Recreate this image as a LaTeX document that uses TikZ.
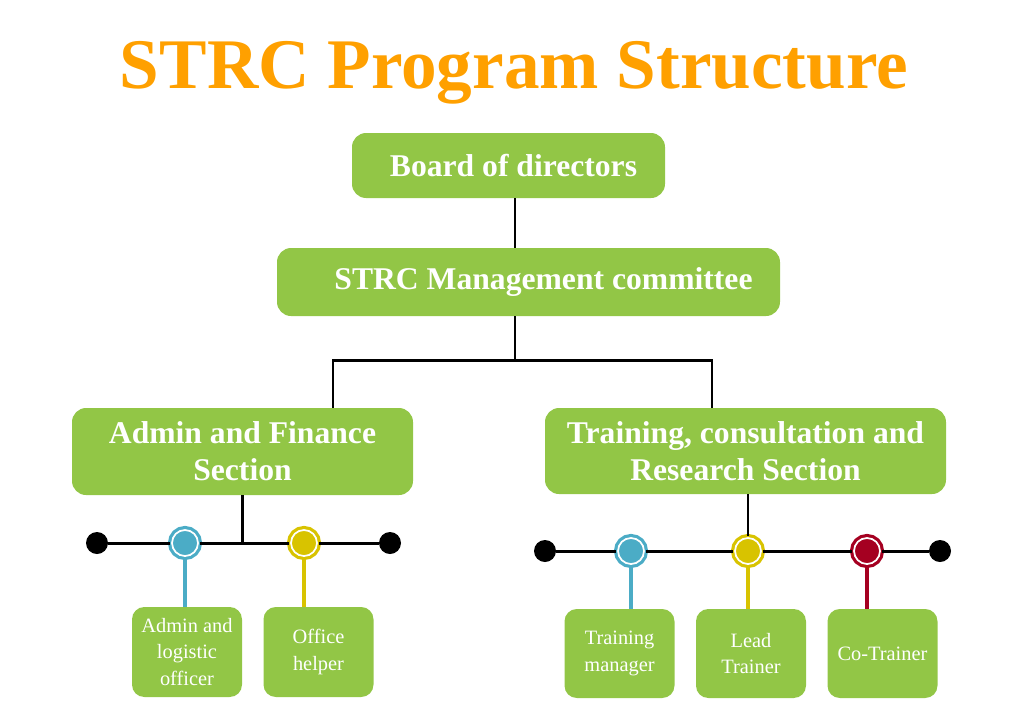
\documentclass[tikz,border=0pt]{standalone}
\usepackage{fontspec}
\setmainfont{Liberation Serif}
\usetikzlibrary{positioning,calc}
\definecolor{leaf}{HTML}{92C646}
\definecolor{amber}{HTML}{FFA000}
\definecolor{ringTeal}{HTML}{4BACC6}
\definecolor{ringGold}{HTML}{D8C300}
\definecolor{ringRed}{HTML}{A50021}
\tikzset{
  headbox/.style={fill=leaf, rounded corners=8pt, align=center, text=white,
    font=\fontsize{18}{21}\selectfont\bfseries},
  staffbox/.style={fill=leaf, rounded corners=7pt, align=center, text=white,
    minimum width=2.2cm, minimum height=1.8cm, font=\fontsize{11.6}{15.3}\selectfont},
  link/.style={line width=1.7pt, draw=black},
  enddot/.style={circle, fill=black, inner sep=0pt, minimum size=0.44cm},
  ring/.style={circle, inner sep=0pt, minimum size=0.52cm, fill=#1, draw=#1,
    double=white, double distance=1pt, line width=1.8pt},
  drop/.style={line width=1.8pt, draw=#1}
}
\begin{document}
\begin{tikzpicture}
  \useasboundingbox (0,0) rectangle (20.48,-14.48);
  \node[anchor=base, text=amber, font=\fontsize{40.5}{44}\selectfont\bfseries] (title) at (10.28,-1.76) {STRC Program Structure};
  \node[headbox, minimum width=6.26cm, minimum height=1.30cm] (board) at (10.17,-3.31) {\hspace*{0.2cm}Board of directors};
  \node[headbox, minimum width=10.06cm, minimum height=1.36cm] (mgmt) at (10.57,-5.64) {\hspace*{0.6cm}STRC Management committee};
  \node[headbox, minimum width=6.82cm, minimum height=1.74cm] (admin) at (4.85,-9.03) {Admin and Finance\\Section};
  \node[headbox, minimum width=8.02cm, minimum height=1.72cm] (training) at (14.91,-9.02) {Training, consultation and\\Research Section};
  \coordinate (spine) at (10.30,-7.20);
  \coordinate (leftdrop) at (6.66,-7.20);
  \coordinate (rightdrop) at (14.24,-7.20);
  \draw[link] (board.south -| spine) -- (mgmt.north -| spine);
  \draw[link] (mgmt.south -| spine) -- (spine);
  \draw[link] (admin.north -| leftdrop) -- (leftdrop) -- (rightdrop) -- (training.north -| rightdrop);
  % admin and finance staff
  \node[enddot] (dotL1) at (1.94,-10.86) {};
  \node[enddot] (dotL2) at (7.80,-10.86) {};
  \node[ring=ringTeal] (ringA) at (3.70,-10.86) {};
  \node[ring=ringGold] (ringB) at (6.08,-10.86) {};
  \draw[link] (dotL1) -- (ringA) -- (ringB) -- (dotL2);
  \draw[link] (admin.south) -- (admin.south |- dotL1);
  \node[staffbox] (logistic) at (3.74,-13.04) {Admin and\\logistic\\officer};
  \node[staffbox] (helper) at (6.37,-13.04) {Office\\helper};
  \draw[drop=ringTeal] (ringA) -- (logistic.north -| ringA);
  \draw[drop=ringGold] (ringB) -- (helper.north -| ringB);
  % training staff
  \node[enddot] (dotR1) at (10.90,-11.02) {};
  \node[enddot] (dotR2) at (18.80,-11.02) {};
  \node[ring=ringTeal] (ringC) at (12.62,-11.02) {};
  \node[ring=ringGold] (ringD) at (14.96,-11.02) {};
  \node[ring=ringRed] (ringE) at (17.34,-11.02) {};
  \draw[link] (dotR1) -- (ringC) -- (ringD) -- (ringE) -- (dotR2);
  \draw[link] (training.south -| ringD) -- (ringD);
  \node[staffbox, minimum height=1.78cm] (manager) at (12.39,-13.07) {Training\\manager};
  \node[staffbox, minimum height=1.78cm] (lead) at (15.02,-13.07) {Lead\\Trainer};
  \node[staffbox, minimum height=1.78cm] (cotrainer) at (17.65,-13.07) {Co-Trainer};
  \draw[drop=ringTeal] (ringC) -- (manager.north -| ringC);
  \draw[drop=ringGold] (ringD) -- (lead.north -| ringD);
  \draw[drop=ringRed] (ringE) -- (cotrainer.north -| ringE);
\end{tikzpicture}
\end{document}
